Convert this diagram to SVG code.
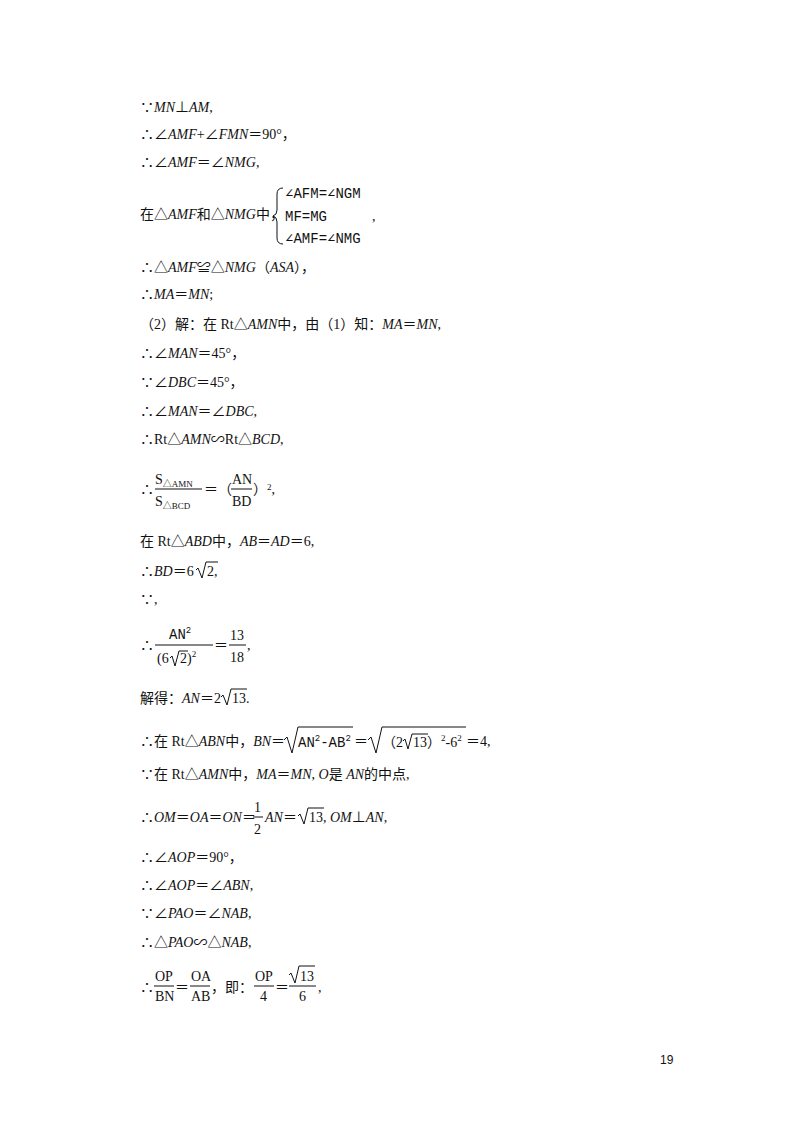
<svg xmlns="http://www.w3.org/2000/svg" width="800" height="1132" viewBox="0 0 800 1132">
<style>
text{font-family:"Liberation Serif","Noto Sans CJK SC",serif;font-size:14px;fill:#111}
.i{font-style:italic}
.m{font-family:"Liberation Mono","DejaVu Sans Mono",monospace;font-size:14px}
.s{font-size:9px}
line,path{stroke:#111;stroke-width:1;fill:none}
</style>
<rect width="800" height="1132" fill="#fff"/>
<g id="text">
<text x="140" y="112">∵<tspan class="i">MN</tspan>⊥<tspan class="i">AM</tspan>,</text>
<text x="140" y="139">∴∠<tspan class="i">AMF</tspan>+∠<tspan class="i">FMN</tspan>＝90°，</text>
<text x="140" y="167">∴∠<tspan class="i">AMF</tspan>＝∠<tspan class="i">NMG</tspan>,</text>
<text x="140" y="219">在△<tspan class="i">AMF</tspan>和△<tspan class="i">NMG</tspan>中，</text>
<path d="M283,188 Q277,188 277,194 L277,210 Q277,215 273,216 Q277,217 277,222 L277,238 Q277,244 283,244"/>
<text x="285" y="198" class="m">∠AFM=∠NGM</text>
<text x="285" y="221" class="m">MF=MG</text>
<text x="372" y="221">,</text>
<text x="285" y="243" class="m">∠AMF=∠NMG</text>
<text x="140" y="272">∴△<tspan class="i">AMF</tspan>≌△<tspan class="i">NMG</tspan>（<tspan class="i">ASA</tspan>），</text>
<text x="140" y="299">∴<tspan class="i">MA</tspan>＝<tspan class="i">MN</tspan>;</text>
<text x="140" y="329">（2）解：在 Rt△<tspan class="i">AMN</tspan>中，由（1）知：<tspan class="i">MA</tspan>＝<tspan class="i">MN</tspan>,</text>
<text x="140" y="358">∴∠<tspan class="i">MAN</tspan>＝45°，</text>
<text x="140" y="387">∵∠<tspan class="i">DBC</tspan>＝45°，</text>
<text x="140" y="416">∴∠<tspan class="i">MAN</tspan>＝∠<tspan class="i">DBC</tspan>,</text>
<text x="140" y="444">∴Rt△<tspan class="i">AMN</tspan>∽Rt△<tspan class="i">BCD</tspan>,</text>

<text x="140" y="494">∴</text>
<text x="155" y="484">S<tspan class="s" dy="3">△AMN</tspan></text>
<line x1="155" y1="489" x2="202" y2="489"/>
<text x="155" y="506">S<tspan class="s" dy="3">△BCD</tspan></text>
<text x="204" y="494">＝（</text>
<text x="232" y="484">AN</text>
<line x1="231" y1="489" x2="252" y2="489"/>
<text x="232" y="506">BD</text>
<text x="253" y="494">）<tspan class="s" dy="-4">2</tspan><tspan dy="4">,</tspan></text>

<text x="140" y="546">在 Rt△<tspan class="i">ABD</tspan>中，<tspan class="i">AB</tspan>＝<tspan class="i">AD</tspan>＝6,</text>
<text x="140" y="576">∴<tspan class="i">BD</tspan>＝6</text>
<path d="M196,570 L198,568 L202,578 L206,562 L218,562"/>
<text x="207" y="576">2,</text>
<text x="140" y="604">∵,</text>

<text x="140" y="650">∴</text>
<text x="169" y="639" class="m">AN<tspan class="s" dy="-6">2</tspan></text>
<line x1="155" y1="645" x2="213" y2="645"/>
<text x="157" y="663">(6</text>
<path d="M170,658 L172,656 L175,666 L179,651 L188,651"/>
<text x="180" y="663">2)<tspan class="s" dy="-6">2</tspan></text>
<text x="214" y="650">＝</text>
<text x="230" y="640">13</text>
<line x1="229" y1="645" x2="246" y2="645"/>
<text x="230" y="662">18</text>
<text x="247" y="650">,</text>

<text x="140" y="703">解得：<tspan class="i">AN</tspan>＝2</text>
<path d="M221,697 L223,695 L227,705 L231,689 L247,689"/>
<text x="232" y="703">13.</text>

<text x="140" y="746">∴在 Rt△<tspan class="i">ABN</tspan>中，<tspan class="i">BN</tspan>＝</text>
<path d="M284,740 L287,737 L292,753 L298,727 L353,727"/>
<text x="298" y="747" class="m">AN<tspan class="s" dy="-6">2</tspan><tspan dy="6">-AB</tspan><tspan class="s" dy="-6">2</tspan></text>
<text x="354" y="746">＝</text>
<path d="M368,740 L371,737 L376,753 L382,727 L466,727"/>
<text x="382" y="747">（2</text>
<path d="M403,741 L405,739 L408,749 L412,734 L428,734"/>
<text x="413" y="747">13）<tspan class="s" dy="-6">2</tspan><tspan dy="6">-6</tspan><tspan class="s" dy="-6">2</tspan></text>
<text x="466" y="746">＝4,</text>

<text x="140" y="779">∵在 Rt△<tspan class="i">AMN</tspan>中，<tspan class="i">MA</tspan>＝<tspan class="i">MN</tspan>, <tspan class="i">O</tspan>是 <tspan class="i">AN</tspan>的中点,</text>

<text x="140" y="822">∴<tspan class="i">OM</tspan>＝<tspan class="i">OA</tspan>＝<tspan class="i">ON</tspan>＝</text>
<text x="254" y="812">1</text>
<line x1="253" y1="817" x2="263" y2="817"/>
<text x="254" y="834">2</text>
<text x="265" y="822"><tspan class="i">AN</tspan>＝</text>
<path d="M298,816 L300,814 L304,824 L308,808 L324,808"/>
<text x="309" y="822">13,  <tspan class="i">OM</tspan>⊥<tspan class="i">AN</tspan>,</text>

<text x="140" y="862">∴∠<tspan class="i">AOP</tspan>＝90°，</text>
<text x="140" y="890">∴∠<tspan class="i">AOP</tspan>＝∠<tspan class="i">ABN</tspan>,</text>
<text x="140" y="918">∵∠<tspan class="i">PAO</tspan>＝∠<tspan class="i">NAB</tspan>,</text>
<text x="140" y="947">∴△<tspan class="i">PAO</tspan>∽△<tspan class="i">NAB</tspan>,</text>

<text x="140" y="992">∴</text>
<text x="155" y="981">OP</text>
<line x1="154" y1="986" x2="174" y2="986"/>
<text x="155" y="1001">BN</text>
<text x="175" y="992">＝</text>
<text x="191" y="981">OA</text>
<line x1="190" y1="986" x2="210" y2="986"/>
<text x="191" y="1001">AB</text>
<text x="211" y="992">，即：</text>
<text x="255" y="981">OP</text>
<line x1="254" y1="986" x2="274" y2="986"/>
<text x="260" y="1001">4</text>
<text x="275" y="992">＝</text>
<path d="M289,975 L291,973 L295,983 L299,966 L315,966"/>
<text x="300" y="981">13</text>
<line x1="289" y1="986" x2="316" y2="986"/>
<text x="299" y="1001">6</text>
<text x="318" y="992">,</text>

<text x="660" y="1064" style="font-family:'Liberation Sans',sans-serif;font-size:12px">19</text>
</g>
</svg>
